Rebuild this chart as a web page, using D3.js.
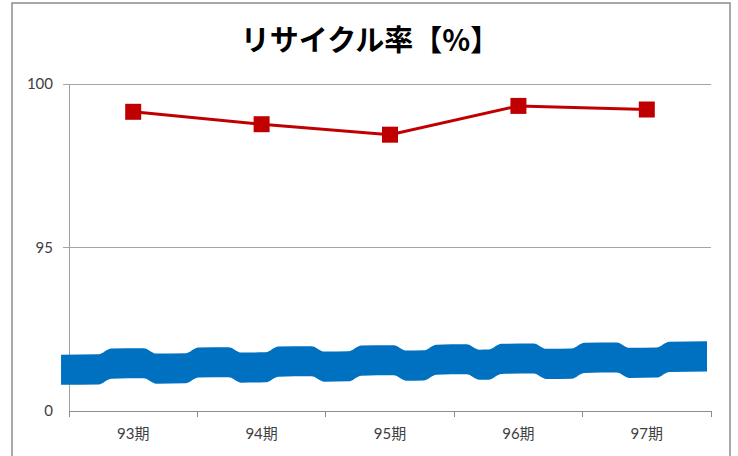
<!DOCTYPE html>
<html>
<head>
<meta charset="utf-8">
<script src="https://cdn.jsdelivr.net/npm/d3@7"></script>
<style>
  body { margin: 0; background: #fff; }
  svg { display: block; }
</style>
</head>
<body>
<div id="chart"></div>
<script>
// chart data
var periods = ["93期", "94期", "95期", "96期", "97期"];
var recycleRate = [99.15, 98.77, 98.45, 99.33, 99.22];
var yTickValues = [90, 95, 100];
var yTickLabels = ["0", "95", "100"];

// axis-break wave (x in category units, y in value units)
var breakEdges = [-0.062, 0.28, 0.631, 0.958, 1.293, 1.581, 1.939, 2.227, 2.578, 2.812, 3.146, 3.318, 3.668, 3.964, 4.315, 4.626, 4.969];
var breakTop = [91.72, 91.96];
var breakStep = 0.17;
var breakThick = 0.92;

var W = 738, H = 456;
var svg = d3.select("#chart").append("svg").attr("width", W).attr("height", H);

// outer frame
svg.append("rect").attr("x", 12).attr("y", 3).attr("width", 718).attr("height", 480)
    .attr("fill", "#fff").attr("stroke", "#8c8c8c").attr("stroke-width", 1.5);

svg.append("text").attr("x", 370).attr("y", 51).attr("text-anchor", "middle")
    .style("font-family", "'Noto Sans CJK JP', sans-serif").style("font-weight", 700).style("font-size", "29px")
    .attr("fill", "#000").text("リサイクル率【%】");

var x = d3.scaleBand().domain(periods).range([69, 711]).padding(0);
var xu = d3.scaleLinear().domain([0, periods.length]).range(x.range());
var y = d3.scaleLinear().domain([90, 100]).range([411, 84]);

var labelFont = "Lato, 'Noto Sans CJK JP', sans-serif";

// gridlines
svg.selectAll(".grid").data([95, 100]).enter().append("line")
    .attr("x1", 63).attr("x2", 711).attr("y1", d => y(d)).attr("y2", d => y(d))
    .attr("stroke", "#a6a6a6").attr("stroke-width", 1).attr("shape-rendering", "crispEdges");

// y axis
var yAxis = d3.axisLeft(y).tickValues(yTickValues).tickSize(0).tickPadding(16)
    .tickFormat((d, i) => yTickLabels[i]);
var gy = svg.append("g").attr("transform", "translate(69,0)").call(yAxis);
gy.select(".domain").attr("stroke", "#a0a0a0").attr("shape-rendering", "crispEdges");
gy.selectAll("text").style("font-family", labelFont).style("font-size", "15px").attr("fill", "#404040");

// x axis
var xAxis = d3.axisBottom(x).tickSize(0).tickPadding(17);
var gx = svg.append("g").attr("transform", "translate(0,411)").call(xAxis);
gx.select(".domain").attr("stroke", "#8c8c8c").attr("shape-rendering", "crispEdges");
gx.selectAll("text").style("font-family", labelFont).style("font-size", "15px").attr("fill", "#404040");
gx.selectAll(".sep").data(d3.range(periods.length + 1)).enter().append("line")
    .attr("x1", d => xu(d)).attr("x2", d => xu(d)).attr("y1", 0).attr("y2", 6)
    .attr("stroke", "#8c8c8c").attr("shape-rendering", "crispEdges");

// wave band marking the broken axis
var wavePts = [];
var span = breakEdges[breakEdges.length - 1] - breakEdges[0];
var ease = 0.05;
for (var i = 0; i < breakEdges.length - 1; i++) {
    var lift = (i % 2) ? breakStep : 0;
    [breakEdges[i] + (i ? ease : 0), breakEdges[i + 1] - (i < breakEdges.length - 2 ? ease : 0)].forEach(function(u) {
        var t = (u - breakEdges[0]) / span;
        var top = breakTop[0] + (breakTop[1] - breakTop[0]) * t + lift;
        wavePts.push({ u: u, top: top, bottom: top - breakThick });
    });
}
var waveArea = d3.area().x(d => xu(d.u)).y0(d => y(d.bottom)).y1(d => y(d.top)).curve(d3.curveMonotoneX);
svg.append("path").datum(wavePts).attr("d", waveArea).attr("fill", "#0070c0");

// series
var pts = periods.map((p, i) => ({ p: p, v: recycleRate[i] }));
var line = d3.line().x(d => x(d.p) + x.bandwidth() / 2).y(d => y(d.v));
svg.append("path").datum(pts).attr("fill", "none").attr("stroke", "#c00000").attr("stroke-width", 3).attr("d", line);
svg.selectAll(".mk").data(pts).enter().append("rect").attr("class", "mk")
    .attr("x", d => x(d.p) + x.bandwidth() / 2 - 8).attr("y", d => y(d.v) - 8)
    .attr("width", 16).attr("height", 16).attr("fill", "#c00000");
</script>
</body>
</html>
